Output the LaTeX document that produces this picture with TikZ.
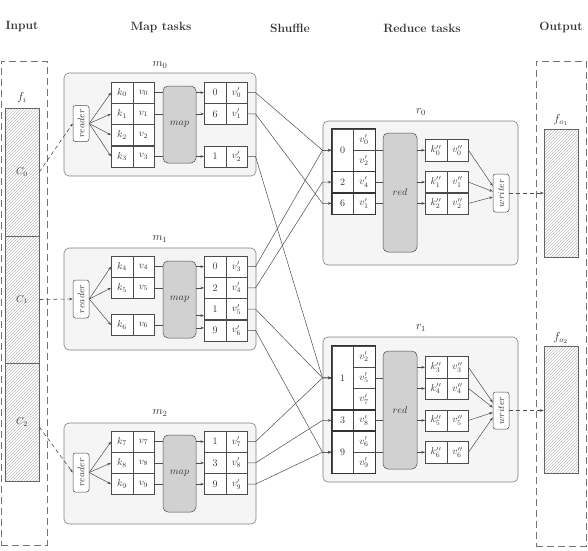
\documentclass[tikz,border=0pt]{standalone}
\usepackage{fix-cm}
\usetikzlibrary{arrows.meta,patterns,calc}
\tikzset{
 ln/.style={draw=black!70, line width=0.5pt},
 tip/.style={-{Stealth[length=3.5pt,width=2.6pt]}},
 cell/.style={draw=black!70, line width=0.5pt, fill=white, minimum width=21.5pt, minimum height=21.25pt, inner sep=0pt, text=black!80, font=\fontsize{10}{12}\selectfont},
 block/.style={draw=black!50, fill=black!4, rounded corners=5pt, line width=0.6pt, inner sep=0pt},
 proc/.style={draw=black!70, fill=black!18, rounded corners=5pt, minimum width=33pt, inner sep=0pt, text=black!80, font=\fontsize{10}{12}\selectfont, line width=0.5pt},
 io/.style={draw=black!70, fill=white, rounded corners=2.5pt, minimum width=16pt, inner sep=0pt, text=black!80, font=\fontsize{9.5}{11}\selectfont, line width=0.5pt},
 head/.style={font=\fontsize{12}{14}\selectfont\bfseries, text=black!80},
 lab/.style={font=\fontsize{11.5}{13}\selectfont, text=black!80},
 dbox/.style={draw=black!55, dash pattern=on 7pt off 4pt, line width=0.7pt, inner sep=0pt},
 file/.style={draw=black!60, line width=0.6pt, pattern=north east lines, pattern color=black!25, minimum width=34pt, inner sep=0pt, text=black!80, font=\fontsize{10}{12}\selectfont},
 grp/.style={draw=black!80, line width=0.9pt},
 dline/.style={draw=black!70, dash pattern=on 4pt off 3pt, line width=0.6pt},
}
\newcommand\kvpair[6]{%
 \node[cell] (#1k) at (#2,#4) {$#5$};
 \node[cell] (#1v) at (#3,#4) {$#6$};}
\newcommand\shufline[2]{\draw[ln,tip] (#1.east) -- ++(8,0) -- ($(#2.west)+(-9,0)$) -- (#2.west);}
\begin{document}
\begin{tikzpicture}[x=1pt,y=-1pt]
\useasboundingbox (0,0) rectangle (588,550);
% headers
\node[head] (h1) at (22,27) {Input};
\node[head] (h2) at (161,27) {Map tasks};
\node[head] (h3) at (290,28) {Shuffle};
\node[head] (h4) at (422,28) {Reduce tasks};
\node[head] (h5) at (561,27) {Output};
% input
\node[dbox, minimum width=46pt, minimum height=484pt] (inbox) at (24,303) {};
\node[lab] (filab) at (22,98) {$f_i$};
\node[file, minimum height=128pt] (ch0) at (22,172) {$C_0$};
\node[file, minimum height=127pt] (ch1) at (22,299.5) {$C_1$};
\node[file, minimum height=118pt] (ch2) at (22,422) {\raisebox{-5pt}{$C_2$}};
% output
\node[dbox, minimum width=50pt, minimum height=485pt] (outbox) at (561,303.5) {};
\node[file, minimum height=128pt] (fo1) at (561,193) {};
\node[lab] (fo1lab) at (561,120) {$f_{o_1}$};
\node[file, minimum height=127pt] (fo2) at (561,409.5) {};
\node[lab] (fo2lab) at (561,338) {$f_{o_2}$};

% ---------- m0
\node[block, minimum width=192pt, minimum height=103pt] (M0) at (160,124.5) {};
\node[lab] (m0lab) at (160,65) {$m_0$};
\node[io, minimum height=36pt] (rd0) at (81,123.5) {\rotatebox{90}{$reader$}};
\kvpair{x0}{122}{143.5}{92.6}{k_0}{v_0}
\kvpair{x1}{122}{143.5}{113.9}{k_1}{v_1}
\kvpair{x2}{122}{143.5}{135.1}{k_2}{v_2}
\kvpair{x3}{122}{143.5}{156.4}{k_3}{v_3}
\node[proc, minimum height=77pt] (mp0) at (179.5,124.5) {$map$};
\kvpair{y0}{215}{236.5}{92.6}{0}{v'_0}
\kvpair{y1}{215}{236.5}{113.9}{6}{v'_1}
\kvpair{y2}{215}{236.5}{156.4}{1}{v'_2}
\foreach \i in {0,...,3} \draw[ln,tip] (rd0.east) -- (x\i k.west);
\foreach \i in {0,1,3} \draw[ln] (x\i v.east) -- (x\i v.east -| mp0.west);
\foreach \i in {0,1,2} \draw[ln,tip] (y\i k.west -| mp0.east) -- (y\i k.west);

% ---------- m1
\node[block, minimum width=192pt, minimum height=102pt] (M1) at (160,299) {};
\node[lab] (m1lab) at (160,239) {$m_1$};
\node[io, minimum height=38pt] (rd1) at (81,299) {\rotatebox{90}{$reader$}};
\kvpair{x4}{122}{143.5}{266.6}{k_4}{v_4}
\kvpair{x5}{122}{143.5}{287.9}{k_5}{v_5}
\kvpair{x6}{122}{143.5}{325}{k_6}{v_6}
\node[proc, minimum height=77pt] (mp1) at (179.5,299.5) {$map$};
\kvpair{y3}{215}{236.5}{266.6}{0}{v'_3}
\kvpair{y4}{215}{236.5}{287.9}{2}{v'_4}
\kvpair{y5}{215}{236.5}{309.1}{1}{v'_5}
\kvpair{y6}{215}{236.5}{330.4}{9}{v'_6}
\foreach \i in {4,5,6} \draw[ln,tip] (rd1.east) -- (x\i k.west);
\foreach \i in {4,5,6} \draw[ln] (x\i v.east) -- (x\i v.east -| mp1.west);
\foreach \i in {3,4} \draw[ln,tip] (y\i k.west -| mp1.east) -- (y\i k.west);
\coordinate (e5) at ($(y5k.west)+(0,6.5)$);
\coordinate (e6) at ($(y6k.west)+(0,-2.5)$);
\draw[ln,tip] (e5 -| mp1.east) -- (e5);
\draw[ln,tip] (e6 -| mp1.east) -- (e6);

% ---------- m2
\node[block, minimum width=192pt, minimum height=101pt] (M2) at (160,473.5) {};
\node[lab] (m2lab) at (160,413) {$m_2$};
\node[io, minimum height=39pt] (rd2) at (81,472.5) {\rotatebox{90}{$reader$}};
\kvpair{x7}{122}{143.5}{441.6}{k_7}{v_7}
\kvpair{x8}{122}{143.5}{462.9}{k_8}{v_8}
\kvpair{x9}{122}{143.5}{484.1}{k_9}{v_9}
\node[proc, minimum height=77pt] (mp2) at (179.5,473.5) {$map$};
\kvpair{y7}{215}{236.5}{441.6}{1}{v'_7}
\kvpair{y8}{215}{236.5}{462.9}{3}{v'_8}
\kvpair{y9}{215}{236.5}{484.1}{9}{v'_9}
\foreach \i in {7,8,9} \draw[ln,tip] (rd2.east) -- (x\i k.west);
\foreach \i in {7,8,9} \draw[ln] (x\i v.east) -- (x\i v.east -| mp2.west);
\foreach \i in {7,8,9} \draw[ln,tip] (y\i k.west -| mp2.east) -- (y\i k.west);

% input arrows
\draw[dline,tip] (ch0.east) -- (rd0.west);
\draw[dline,tip] (ch1.east) -- (rd1.west);
\coordinate (c2s) at ($(ch2.east)+(0,5)$);
\draw[dline,tip] (c2s) -- (rd2.west);

% ---------- r0
\node[block, minimum width=195pt, minimum height=144pt] (R0) at (420.5,193) {};
\node[lab] (r0lab) at (421,112) {$r_0$};
\node[cell, minimum height=42.5pt] (R0a) at (342.5,150.25) {$0$};
\node[cell] (R0b) at (342.5,182.1) {$2$};
\node[cell] (R0c) at (342.5,203.4) {$6$};
\node[cell] (ra1) at (364,139.6) {$v'_0$};
\node[cell] (ra2) at (364,160.9) {$v'_2$};
\node[cell] (ra3) at (364,182.1) {$v'_4$};
\node[cell] (ra4) at (364,203.4) {$v'_1$};
\draw[grp] (R0a.north west) rectangle (ra2.south east);
\draw[grp] (R0b.north west) rectangle (ra3.south east);
\draw[grp] (R0c.north west) rectangle (ra4.south east);
\node[proc, minimum width=34pt, minimum height=119pt] (rdr0) at (400,192.5) {$red$};
\foreach \g in {R0a,R0b,R0c} \draw[ln] (\g.center -| ra1.east) -- (\g.center -| rdr0.west);
\kvpair{u0}{436}{457.5}{150.25}{k''_0}{v''_0}
\kvpair{u1}{436}{457.5}{182.1}{k''_1}{v''_1}
\kvpair{u2}{436}{457.5}{203.4}{k''_2}{v''_2}
\foreach \i in {0,1,2} \draw[ln,tip] (u\i k.west -| rdr0.east) -- (u\i k.west);
\node[io, minimum height=38pt] (wr0) at (501,193) {\rotatebox{90}{$writer$}};
\draw[ln,tip] (u0v.east) -- ([yshift=7pt]wr0.west);
\draw[ln,tip] (u1v.east) -- ([yshift=1.5pt]wr0.west);
\draw[ln,tip] (u2v.east) -- ([yshift=-4pt]wr0.west);
\draw[dline,tip] (wr0.east) -- (wr0.east -| fo1.west);

% ---------- r1
\node[block, minimum width=195pt, minimum height=145pt] (R1) at (420.5,409.5) {};
\node[lab] (r1lab) at (421,328) {$r_1$};
\node[cell, minimum height=63.75pt] (R1a) at (342.5,377.9) {$1$};
\node[cell] (R1b) at (342.5,420.4) {$3$};
\node[cell, minimum height=42.5pt] (R1c) at (342.5,452.25) {$9$};
\node[cell] (rb1) at (364,356.6) {$v'_2$};
\node[cell] (rb2) at (364,377.9) {$v'_5$};
\node[cell] (rb3) at (364,399.1) {$v'_7$};
\node[cell] (rb4) at (364,420.4) {$v'_8$};
\node[cell] (rb5) at (364,441.6) {$v'_6$};
\node[cell] (rb6) at (364,462.9) {$v'_9$};
\draw[grp] (R1a.north west) rectangle (rb3.south east);
\draw[grp] (R1b.north west) rectangle (rb4.south east);
\draw[grp] (R1c.north west) rectangle (rb6.south east);
\node[proc, minimum width=34pt, minimum height=118pt] (rdr1) at (400,410) {$red$};
\foreach \g in {R1a,R1b,R1c} \draw[ln] (\g.center -| rb1.east) -- (\g.center -| rdr1.west);
\kvpair{u3}{436}{457.5}{367.3}{k''_3}{v''_3}
\kvpair{u4}{436}{457.5}{388.5}{k''_4}{v''_4}
\kvpair{u5}{436}{457.5}{420.4}{k''_5}{v''_5}
\kvpair{u6}{436}{457.5}{452.25}{k''_6}{v''_6}
\foreach \i in {3,4,5,6} \draw[ln,tip] (u\i k.west -| rdr1.east) -- (u\i k.west);
\node[io, minimum height=37pt] (wr1) at (501,410.5) {\rotatebox{90}{$writer$}};
\draw[ln,tip] (u3v.east) -- ([yshift=8pt]wr1.west);
\draw[ln,tip] (u4v.east) -- ([yshift=3pt]wr1.west);
\draw[ln,tip] (u5v.east) -- ([yshift=-2pt]wr1.west);
\draw[ln,tip] (u6v.east) -- ([yshift=-7pt]wr1.west);
\draw[dline,tip] (wr1.east) -- (wr1.east -| fo2.west);

% ---------- shuffle
\shufline{y0v}{R0a}
\shufline{y1v}{R0c}
\shufline{y2v}{R1a}
\shufline{y3v}{R0a}
\shufline{y4v}{R0b}
\shufline{y5v}{R1a}
\shufline{y6v}{R1c}
\shufline{y7v}{R1a}
\shufline{y8v}{R1b}
\shufline{y9v}{R1c}
\end{tikzpicture}
\end{document}
